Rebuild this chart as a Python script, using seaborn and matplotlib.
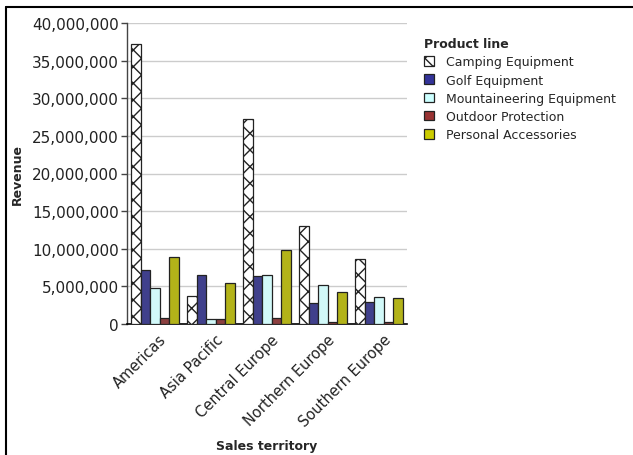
import matplotlib
matplotlib.use("Agg")
import matplotlib.pyplot as plt
import matplotlib.ticker as mticker
import matplotlib.transforms as mtransforms
from matplotlib.patches import Patch
from matplotlib.lines import Line2D
import seaborn as sns
import pandas as pd

territories = ["Americas", "Asia Pacific", "Central Europe", "Northern Europe", "Southern Europe"]
product_lines = ["Camping Equipment", "Golf Equipment", "Mountaineering Equipment",
                 "Outdoor Protection", "Personal Accessories"]
camping = [37200000, 3770000, 27200000, 13070000, 8600000]
golf = [7220000, 6500000, 6330000, 2740000, 2880000]
mountaineering = [4830000, 620000, 6500000, 5140000, 3630000]
outdoor = [840000, 660000, 840000, 310000, 310000]
personal = [8900000, 5500000, 9790000, 4300000, 3450000]
colors = ["#FFFFFF", "#333399", "#CCFFFF", "#993333", "#CCCC00"]

series = [camping, golf, mountaineering, outdoor, personal]
rows = []
for pl, vals in zip(product_lines, series):
    for t, v in zip(territories, vals):
        rows.append({"Sales territory": t, "Product line": pl, "Revenue": v})
df = pd.DataFrame(rows)
palette = dict(zip(product_lines, colors))

sns.set_style("white")
plt.rcParams["font.family"] = ["DejaVu Sans"]
plt.rcParams["hatch.linewidth"] = 1.0
plt.rcParams["hatch.color"] = "black"

fig = plt.figure(figsize=(6.33, 4.56), dpi=100)
ax = fig.add_axes([127 / 633, 1 - 325 / 456, 280 / 633, 301 / 456])

sns.barplot(data=df, x="Sales territory", y="Revenue", hue="Product line",
            order=territories, hue_order=product_lines, palette=palette,
            width=0.84, edgecolor="#222222", linewidth=0.9, legend=False,
            errorbar=None, ax=ax, zorder=3)
for bar in ax.containers[0]:
    bar.set_hatch("xx")

ax.set_ylim(0, 40000000)
ax.set_xlim(-0.5, 4.5)
ax.yaxis.set_major_locator(mticker.MultipleLocator(5000000))
ax.yaxis.set_major_formatter(mticker.FuncFormatter(lambda v, p: f"{int(v):,}"))
ax.grid(axis="y", color="#cccccc", linewidth=1, zorder=0)
ax.set_axisbelow(True)
for s in ["top", "right"]:
    ax.spines[s].set_visible(False)
ax.spines["left"].set_color("#444444")
ax.spines["left"].set_linewidth(1)
ax.spines["bottom"].set_color("black")
ax.spines["bottom"].set_linewidth(1.2)
ax.tick_params(axis="y", which="major", left=True, length=4, width=1, color="#444444",
               labelsize=11, labelcolor="#222222", pad=2)
ax.tick_params(axis="x", bottom=False, labelsize=10.5, labelcolor="#222222", pad=2)
offset = mtransforms.ScaledTranslation(4 / 100, 0, fig.dpi_scale_trans)
for lbl in ax.get_xticklabels():
    lbl.set_rotation(45)
    lbl.set_ha("right")
    lbl.set_rotation_mode("anchor")
    lbl.set_transform(lbl.get_transform() + offset)

ax.set_xlabel("Sales territory", fontsize=9, fontweight="bold")
ax.xaxis.set_label_coords(0.5, (325 - 440) / 301)
ax.set_ylabel("Revenue", fontsize=9, fontweight="bold", labelpad=6)

handles = [Patch(facecolor=c, edgecolor="#222222", linewidth=0.9,
                 hatch=("xx" if i == 0 else None)) for i, c in enumerate(colors)]
leg = fig.legend(handles, product_lines, title="Product line", loc="upper left",
                 bbox_to_anchor=(419 / 633, 1 - 33 / 456), frameon=False,
                 fontsize=9, title_fontproperties={"weight": "bold", "size": 9},
                 handlelength=0.8, handleheight=0.8, handletextpad=1.0,
                 labelspacing=0.42, alignment="left", borderaxespad=0)

fig.add_artist(Line2D([6 / 633, 1], [1 - 8 / 456, 1 - 8 / 456], color="black", linewidth=1.5,
                      transform=fig.transFigure))
fig.add_artist(Line2D([6 / 633, 6 / 633], [0, 1 - 8 / 456], color="black", linewidth=1.5,
                      transform=fig.transFigure))

fig.savefig("out.png", dpi=100)
